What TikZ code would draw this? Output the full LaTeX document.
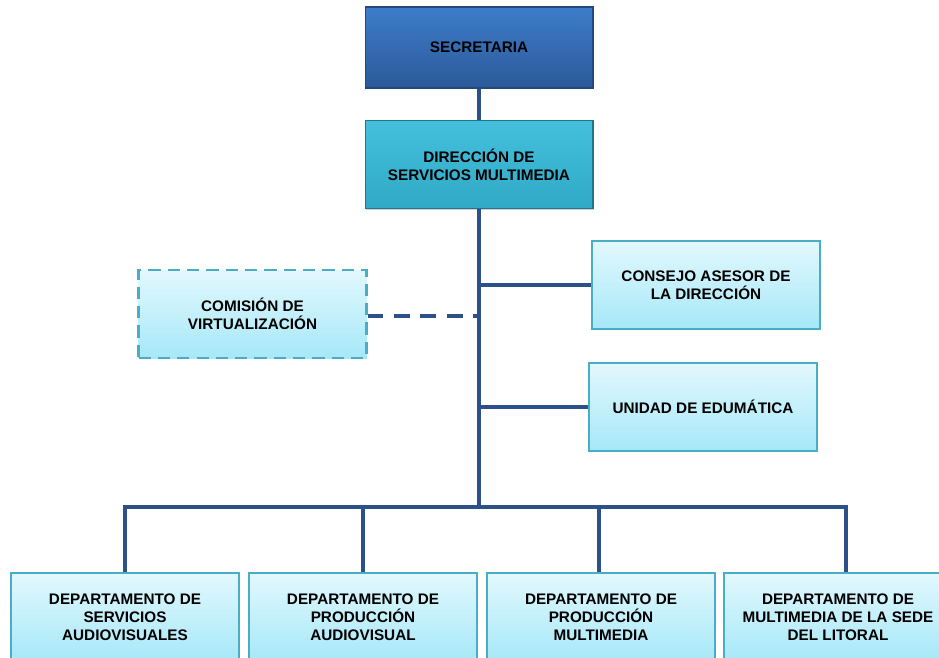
\documentclass[tikz,border=0pt]{standalone}
\usepackage{fontspec}
\setmainfont{Liberation Sans}
\usetikzlibrary{shadows}

\definecolor{linkblue}{HTML}{2C5088}
\definecolor{topblue}{HTML}{3D7CCB}
\definecolor{botblue}{HTML}{2C5A98}
\definecolor{dirtop}{HTML}{45C0DC}
\definecolor{dirbot}{HTML}{2FA9C6}
\definecolor{paletop}{HTML}{E2F8FD}
\definecolor{palebot}{HTML}{A6E8F8}
\definecolor{paleedge}{HTML}{4BACC6}

\tikzset{
  unit/.style = {minimum width = 4.56cm, minimum height = 1.76cm, align = center,
    font = \fontsize{8.7}{10.4}\selectfont\bfseries, inner sep = 2pt,
    drop shadow = {shadow xshift = 0.5pt, shadow yshift = -0.8pt, fill = black!30, opacity = 0.6}},
  headbox/.style = {unit, minimum height = 1.62cm, top color = topblue, bottom color = botblue,
    draw = botblue!80!black, line width = 0.6pt},
  dirbox/.style = {unit, top color = dirtop, bottom color = dirbot,
    draw = dirbot!70!black, line width = 0.6pt},
  palebox/.style = {unit, top color = paletop, bottom color = palebot,
    draw = paleedge, line width = 1.3pt},
  link/.style = {draw = linkblue, line width = 1.8pt},
}

\begin{document}
\begin{tikzpicture}[x = 0.02cm, y = -0.02cm]
    \useasboundingbox (0, 0) rectangle (939, 657);
    \clip (0, 0) rectangle (939, 657);
    \node[headbox] (Secretaria) at (479, 47.5) {SECRETARIA};
    \node[dirbox] (Direccion) at (479, 164.5) {DIRECCIÓN DE\\SERVICIOS MULTIMEDIA};
    \node[palebox, dash pattern = on 7pt off 4pt] (Comision) at (252.5, 314) {COMISIÓN DE\\VIRTUALIZACIÓN};
    \node[palebox] (Consejo) at (706, 285) {CONSEJO ASESOR DE\\LA DIRECCIÓN};
    \node[palebox] (Unidad) at (703, 407) {UNIDAD DE EDUMÁTICA};
    \node[palebox] (Dep Audiovisuales) at (125, 617) {DEPARTAMENTO DE\\SERVICIOS\\AUDIOVISUALES};
    \node[palebox] (Dep Prod Audiovisual) at (363, 617) {DEPARTAMENTO DE\\PRODUCCIÓN\\AUDIOVISUAL};
    \node[palebox] (Dep Prod Multimedia) at (601, 617) {DEPARTAMENTO DE\\PRODUCCIÓN\\MULTIMEDIA};
    \node[palebox] (Dep Litoral) at (838, 617) {DEPARTAMENTO DE\\MULTIMEDIA DE LA SEDE\\DEL LITORAL};
    \coordinate (Consejo Tap) at (479, 285);
    \coordinate (Comision Tap) at (479, 316);
    \coordinate (Unidad Tap) at (479, 407);
    \coordinate (Bus) at (479, 507);
    \coordinate (Bus Left) at (125, 507);
    \coordinate (Bus Right) at (846, 507);
    \coordinate (Drop Audiovisual) at (363, 507);
    \coordinate (Drop Multimedia) at (599, 507);
    \draw[link] (Secretaria) -- (Direccion);
    \draw[link] (Direccion.south) -- (Bus);
    \draw[link] (Consejo Tap) -- (Consejo.west);
    \draw[link] (Unidad Tap) -- (Unidad.west);
    \draw[link, dash pattern = on 9pt off 6pt] (Comision.east |- Comision Tap) -- (Comision Tap);
    \draw[link] (Bus Left |- Dep Audiovisuales.north) -- (Bus Left) -- (Bus Right) -- (Bus Right |- Dep Litoral.north);
    \draw[link] (Drop Audiovisual) -- (Drop Audiovisual |- Dep Prod Audiovisual.north);
    \draw[link] (Drop Multimedia) -- (Drop Multimedia |- Dep Prod Multimedia.north);
  \end{tikzpicture}
\end{document}
